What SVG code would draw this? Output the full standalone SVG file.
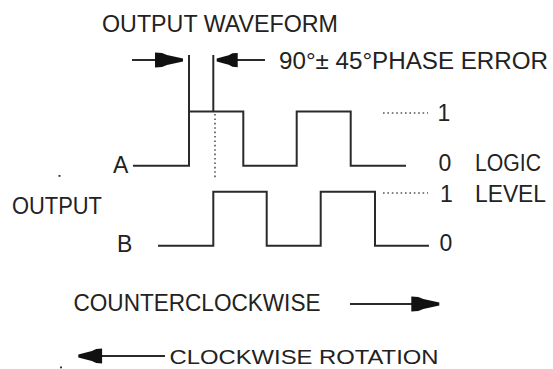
<svg xmlns="http://www.w3.org/2000/svg" width="553" height="369" viewBox="0 0 553 369">
<style>
.t{font-family:"Liberation Sans",Arial,sans-serif;font-size:23px;fill:#222;}
.m{text-anchor:middle;}
.w{fill:none;stroke:#2a2a2a;stroke-width:2;stroke-linejoin:miter;}
.d{fill:none;stroke:#555;stroke-width:1.6;stroke-dasharray:1.6 2.8;}
.h{fill:#111;}
</style>
<defs>
<path id="ah" d="M0,-1.6 L-16,-5 L-21,-7 L-28,-7.5 L-28,7.5 L-21,7 L-16,5 L0,1.6 Z"/>
</defs>
<rect width="553" height="369" fill="#fff"/>
<g id="title">
<text class="t" x="102" y="32" textLength="236" lengthAdjust="spacingAndGlyphs">OUTPUT WAVEFORM</text>
<text class="t" x="279" y="69" textLength="269" lengthAdjust="spacingAndGlyphs">90°± 45°PHASE ERROR</text>
</g>
<g id="phase-markers">
<line class="w" x1="189" y1="55" x2="189" y2="112"/>
<line class="w" x1="213.3" y1="55" x2="213.3" y2="111.5"/>
<line class="w" x1="132" y1="60" x2="160" y2="60"/>
<use href="#ah" class="h" transform="translate(183,60)"/>
<line class="w" x1="232" y1="60" x2="265" y2="60"/>
<use href="#ah" class="h" transform="translate(216.7,60) scale(-0.75,0.95)"/>
<line class="d" x1="215" y1="114" x2="215" y2="180"/>
</g>
<g id="waveform-a">
<text class="t" x="113" y="172.5">A</text>
<polyline class="w" points="133,165.7 189,165.7 189,111.5 243.3,111.5 243.3,165.7 296.7,165.7 296.7,111.5 350.7,111.5 350.7,165.7 406,165.7"/>
<line class="d" x1="383" y1="113" x2="428" y2="113"/>
<text class="t m" x="444" y="120.5">1</text>
<text class="t m" x="445" y="171">0</text>
<text class="t" x="475" y="171" textLength="66" lengthAdjust="spacingAndGlyphs">LOGIC</text>
</g>
<g id="waveform-b">
<text class="t" x="117" y="252">B</text>
<polyline class="w" points="158,245.7 213.3,245.7 213.3,191.7 266.7,191.7 266.7,245.7 320.7,245.7 320.7,191.7 375,191.7 375,245.7 429,245.7"/>
<line class="d" x1="383" y1="193" x2="428" y2="193"/>
<text class="t m" x="446.5" y="202">1</text>
<text class="t" x="475" y="202" textLength="71" lengthAdjust="spacingAndGlyphs">LEVEL</text>
<text class="t m" x="446" y="251">0</text>
</g>
<g id="output-label">
<text class="t" x="12" y="214" textLength="90" lengthAdjust="spacingAndGlyphs">OUTPUT</text>
<rect x="58.5" y="175" width="2" height="1.8" fill="#333"/>
</g>
<g id="rotation">
<text class="t" x="73.5" y="311" textLength="247" lengthAdjust="spacingAndGlyphs">COUNTERCLOCKWISE</text>
<line class="w" x1="350" y1="304" x2="420" y2="304"/>
<use href="#ah" class="h" transform="translate(439.3,304)"/>
<line class="w" x1="95" y1="356" x2="165" y2="356"/>
<use href="#ah" class="h" transform="translate(78.3,356) scale(-0.85,1)"/>
<text class="t" x="169.5" y="364.3" font-size="21" style="font-size:21px" textLength="269" lengthAdjust="spacingAndGlyphs">CLOCKWISE ROTATION</text>
<rect x="60" y="366.5" width="2" height="1.8" fill="#333"/>
</g>
</svg>
